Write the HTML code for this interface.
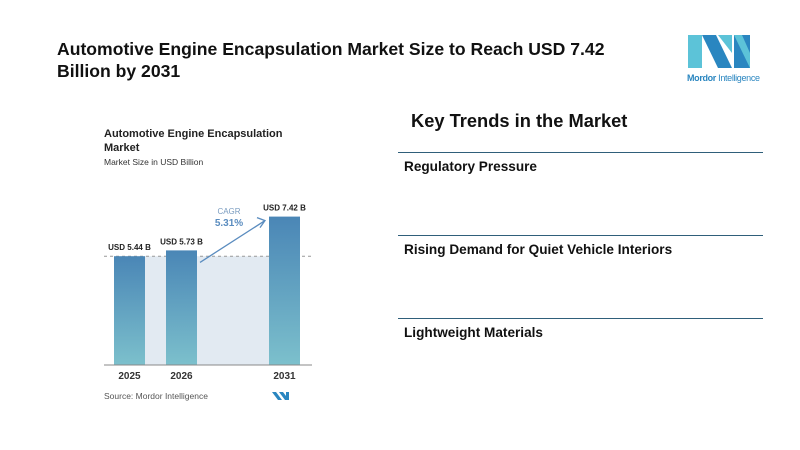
<!DOCTYPE html>
<html><head><meta charset="utf-8"><style>
body{margin:0;width:800px;height:450px;background:#fff;font-family:"Liberation Sans",sans-serif;overflow:hidden;position:relative}
.a{position:absolute;margin:0}
.t{left:57px;top:38px;font-size:17.6px;font-weight:bold;color:#111;line-height:22px;width:600px}
.kt{left:411px;top:110px;font-size:18.3px;font-weight:bold;color:#111}
.ln{left:398px;width:365px;height:1px;background:#2f5f7a}
.it{left:404px;font-size:13.6px;font-weight:bold;color:#111}
</style></head><body>
<div class="a t">Automotive Engine Encapsulation Market Size to Reach USD 7.42 Billion by 2031</div>
<svg class="a" style="left:686px;top:33px" width="90" height="56">
<polygon points="2,2 16,2 16,35 2,35" fill="#5cc3d8"/><polygon points="16,2 30,2 46,35 32,35" fill="#2a86c0"/>
<polygon points="32,2 46,2 46,20" fill="#5cc3d8"/><polygon points="48,2 64,2 64,35 48,35" fill="#2a86c0"/><polygon points="48,2 56,2 64,20 64,35" fill="#5cc3d8"/>
<text x="1" y="48" font-size="9" fill="#2a86c0" font-family="Liberation Sans" textLength="73"><tspan font-weight="bold">Mordor</tspan> Intelligence</text></svg>
<div class="a" style="left:104px;top:127px;font-size:11px;font-weight:bold;color:#222;line-height:14px">Automotive Engine Encapsulation<br>Market</div>
<div class="a" style="left:104px;top:157px;font-size:8.5px;color:#333">Market Size in USD Billion</div>
<svg class="a" style="left:0;top:0" width="800" height="450" id="ch">
<defs><linearGradient id="g" x1="0" y1="0" x2="0" y2="1"><stop offset="0" stop-color="#4a86b6"/><stop offset="1" stop-color="#7cc0cc"/></linearGradient></defs>
</svg>
<div class="a" style="left:104px;top:391px;font-size:8.5px;color:#555">Source: Mordor Intelligence</div>
<div class="a kt">Key Trends in the Market</div>
<div class="a ln" style="top:152px"></div>
<div class="a it" style="top:159px">Regulatory Pressure</div>
<div class="a ln" style="top:235px"></div>
<div class="a it" style="top:242px">Rising Demand for Quiet Vehicle Interiors</div>
<div class="a ln" style="top:318px"></div>
<div class="a it" style="top:325px">Lightweight Materials</div>
<script>
const categories=["2025","2026","2031"];
const values=[5.44,5.73,7.42];
const valueLabels=["USD 5.44 B","USD 5.73 B","USD 7.42 B"];
const cagr="5.31%";
const ns="http://www.w3.org/2000/svg",svg=document.getElementById('ch');
const base=365,k=20,xs=[114,166,269],bw=31;
const y=v=>base-v*k;
function mk(t,a,txt){const e=document.createElementNS(ns,t);for(const n in a)e.setAttribute(n,a[n]);if(txt)e.textContent=txt;svg.appendChild(e);return e;}
let sh=mk('rect',{x:xs[0]+bw,y:y(values[0]),width:xs[2]-xs[0]-bw,height:values[0]*k,fill:'#e2eaf2'});


let dl=mk('line',{x1:104,x2:312,y1:y(values[0]),y2:y(values[0]),stroke:'#999','stroke-dasharray':'3,3','stroke-width':1});


values.forEach((v,i)=>{
 let r=mk('rect',{x:xs[i],y:y(v),width:bw,height:v*k,fill:'url(#g)'});
 
 
 let l=mk('text',{x:xs[i]+bw/2,y:y(v)-6,'text-anchor':'middle','font-size':8,'font-weight':'bold',fill:'#222'},valueLabels[i]);
 
 
 let c=mk('text',{x:xs[i]+bw/2,y:base+14,'text-anchor':'middle','font-size':10,'font-weight':'bold',fill:'#333'},categories[i]);
 
 
});
let ax=mk('line',{x1:104,x2:312,y1:base,y2:base,stroke:'#888','stroke-width':1});


let ar=mk('path',{d:`M${xs[1]+bw+3},${y(values[1])+12} L${xs[2]-4},${y(values[2])+4} M${xs[2]-12},${y(values[2])+1} L${xs[2]-4},${y(values[2])+4} L${xs[2]-9},${y(values[2])+11}`,stroke:'#5a8cbf','stroke-width':1.3,fill:'none'});


let c1=mk('text',{x:229,y:214,'text-anchor':'middle','font-size':8,fill:'#7a9cc0'},'CAGR');


let c2=mk('text',{x:229,y:226,'text-anchor':'middle','font-size':10,'font-weight':'bold',fill:'#5a8cbf'},cagr);


let lg=mk('path',{d:'M272,392 h4 l6,8 h-4z M279,392 h4 l6,8 h-4z M286,392 h3 v8 h-3z',fill:'#2a86c0'});


</script>
</body></html>
